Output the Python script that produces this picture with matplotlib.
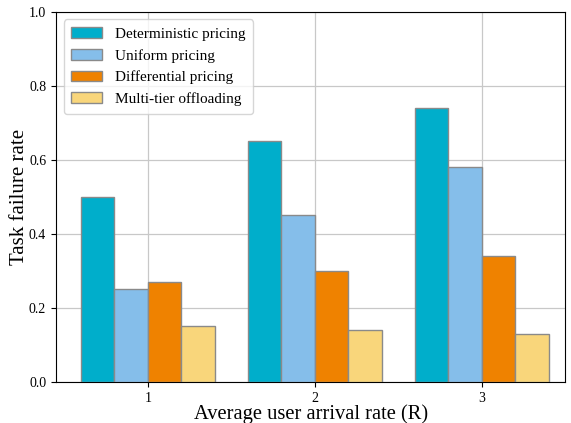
import numpy as np
import matplotlib.pyplot as plt

plt.rcParams['font.family'] = ['Liberation Serif', 'DejaVu Serif']

rates = [1, 2, 3]
labels = ["Deterministic pricing", "Uniform pricing", "Differential pricing", "Multi-tier offloading"]
deterministic = [0.50, 0.65, 0.74]
uniform = [0.25, 0.45, 0.58]
differential = [0.27, 0.30, 0.34]
multitier = [0.15, 0.14, 0.13]
colors = ["#00AECB", "#85BEEA", "#EF8200", "#F9D67B"]

series = [deterministic, uniform, differential, multitier]
x = np.array(rates, dtype=float)
width = 0.2

fig, ax = plt.subplots(figsize=(5.71, 4.23), dpi=100)
for i, (vals, lab, col) in enumerate(zip(series, labels, colors)):
    ax.bar(x + (i - 1.5) * width, vals, width, label=lab, color=col,
           edgecolor="#8a8a8a", linewidth=1.0, zorder=3)

ax.set_xlim(0.45, 3.5)
ax.set_ylim(0, 1.0)
ax.set_xticks(rates)
ax.set_yticks(np.arange(0, 1.01, 0.2))
ax.tick_params(labelsize=10)
ax.grid(True, color="#c8c8c8", linewidth=0.9, zorder=0)
ax.set_xlabel("Average user arrival rate (R)", fontsize=14.8, labelpad=0)
ax.set_ylabel("Task failure rate", fontsize=15, labelpad=0)
ax.legend(loc="upper left", fontsize=11, handlelength=2.0, handletextpad=0.85,
          borderpad=0.5, labelspacing=0.52)

fig.subplots_adjust(left=0.098, right=0.99, top=0.972, bottom=0.097)
fig.savefig("out.png", dpi=100)
